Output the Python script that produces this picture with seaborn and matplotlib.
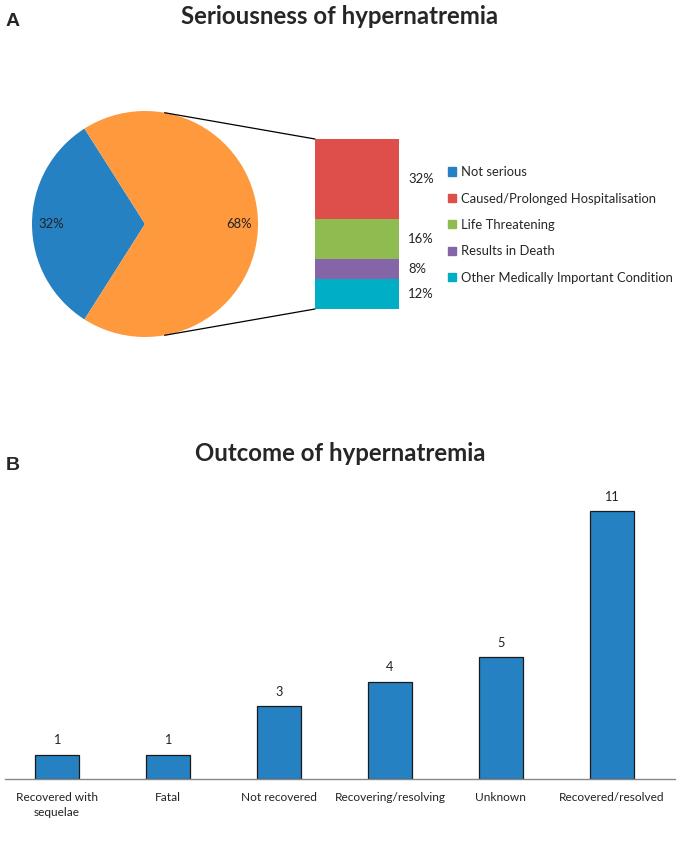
import numpy as np
import pandas as pd
import seaborn as sns
import matplotlib.pyplot as plt
from matplotlib.patches import Patch, ConnectionPatch

# data
seriousness = ['Not serious', 'Serious']
seriousness_pct = [32, 68]
serious_types = ['Caused/Prolonged Hospitalisation', 'Life Threatening',
                 'Results in Death', 'Other Medically Important Condition']
serious_pct = [32, 16, 8, 12]

outcomes = ['Recovered with\nsequelae', 'Fatal', 'Not recovered',
            'Recovering/resolving', 'Unknown', 'Recovered/resolved']
counts = [1, 1, 3, 4, 5, 11]

blue = '#2681C2'
orange = '#FF993D'
type_colors = ['#DE4F4C', '#8FBC50', '#8565A7', '#00AFC6']

sns.set_theme(style='white')
plt.rcParams['font.family'] = ['Lato', 'DejaVu Sans']

W, H = 678, 847
fig = plt.figure(figsize=(W / 100, H / 100), dpi=100)


def box(x0, y0, x1, y1):
    # pixel box (top-left origin) -> figure fraction
    return [x0 / W, 1 - y1 / H, (x1 - x0) / W, (y1 - y0) / H]


# ---------- panel A ----------
fig.text(340 / W, 1 - 17 / H, 'Seriousness of hypernatremia', ha='center', va='center',
         fontsize=17.3, fontweight='bold')
fig.text(6 / W, 1 - 21 / H, 'A', ha='left', va='center', fontsize=14, fontweight='bold',
         family='Liberation Sans')

# pie
cx, cy, r = 145, 224, 113
axp = fig.add_axes(box(cx - r, cy - r, cx + r, cy + r))
axp.pie(seriousness_pct, colors=[blue, orange], startangle=180 - seriousness_pct[0] * 1.8,
        radius=1, autopct='%d%%', pctdistance=0.83, wedgeprops={'linewidth': 0},
        textprops={'fontsize': 9.4, 'color': '#222222'})
axp.set_xlim(-1, 1)
axp.set_ylim(-1, 1)
axp.set_axis_off()

# bar of pie
axs = fig.add_axes(box(315, 139, 399, 309))
stack_df = pd.DataFrame({'type': serious_types, 'pct': serious_pct})
bottom = 0
for t, v, c in zip(stack_df['type'][::-1], stack_df['pct'][::-1], type_colors[::-1]):
    axs.bar(0, v, bottom=bottom, width=1, color=c, linewidth=0)
    axs.text(0.61, bottom + v / 2, f'{v}%', ha='left', va='center', fontsize=9.4,
             color='#222222')
    bottom += v
axs.set_xlim(-0.5, 0.5)
axs.set_ylim(0, sum(serious_pct))
axs.set_axis_off()

# connector lines
ang = np.deg2rad(80)
for sgn, yb in [(1, sum(serious_pct)), (-1, 0)]:
    con = ConnectionPatch(xyA=(np.cos(ang), sgn * np.sin(ang)), coordsA=axp.transData,
                          xyB=(-0.5, yb), coordsB=axs.transData, color='black', lw=0.9)
    fig.add_artist(con)

handles = [Patch(color=blue, label=seriousness[0])] + \
          [Patch(color=c, label=t) for t, c in zip(serious_types, type_colors)]
fig.legend(handles=handles, loc='upper left', bbox_to_anchor=(443 / W, 1 - 161 / H),
           frameon=False, fontsize=9.4, handlelength=0.6, handleheight=0.6,
           handletextpad=0.4, labelspacing=1.1, borderaxespad=0)

# ---------- panel B ----------
fig.text(340 / W, 1 - 453 / H, 'Outcome of hypernatremia', ha='center', va='center',
         fontsize=17.3, fontweight='bold')
fig.text(6 / W, 1 - 465 / H, 'B', ha='left', va='center', fontsize=14, fontweight='bold',
         family='Liberation Sans')

axb = fig.add_axes(box(5, 487, 675, 779))
df = pd.DataFrame({'outcome': outcomes, 'count': counts})
sns.barplot(data=df, x='outcome', y='count', color=blue, saturation=1, width=0.4,
            edgecolor='#1a1a1a', linewidth=0.9, ax=axb)
axb.bar_label(axb.containers[0], padding=6, fontsize=9.2, color='#222222')
axb.set_ylim(0, 12)
axb.set_xlim(-0.47, 5.57)
axb.set_xlabel('')
axb.set_ylabel('')
axb.set_yticks([])
axb.tick_params(axis='x', length=0, pad=9, labelsize=8.6, labelcolor='#222222')
for lab in axb.get_xticklabels():
    lab.set_linespacing(1.5)
for s in ['top', 'right', 'left']:
    axb.spines[s].set_visible(False)
axb.spines['bottom'].set_color('#888888')
axb.spines['bottom'].set_linewidth(1)

fig.savefig('out.png', dpi=100)
